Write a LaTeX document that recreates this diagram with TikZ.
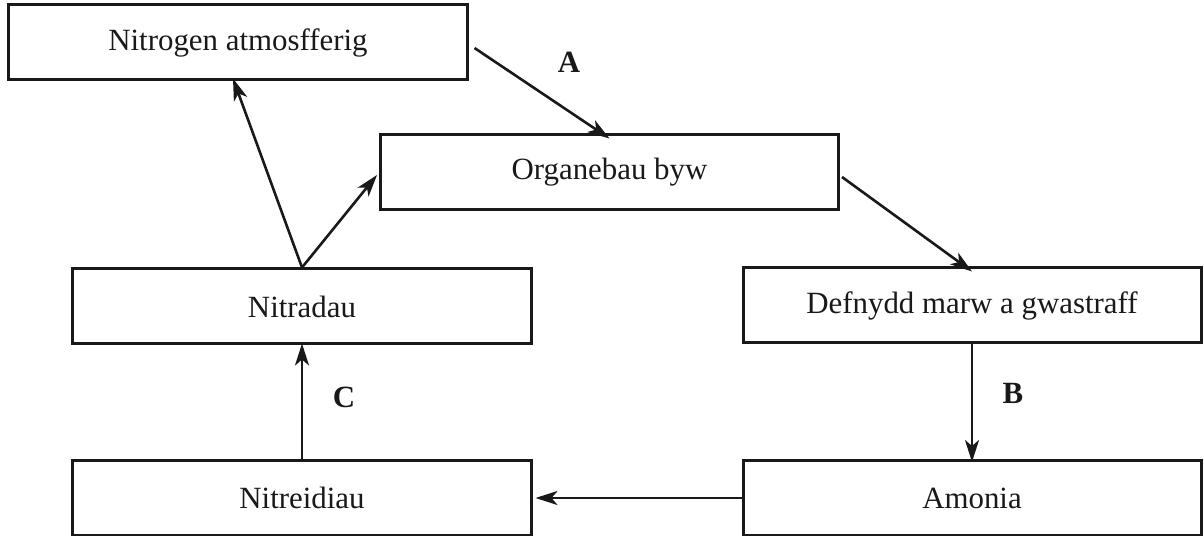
\documentclass[tikz,border=0pt]{standalone}
\usepackage{fontspec}
\setmainfont{Liberation Serif}
\usetikzlibrary{arrows.meta}
\begin{document}
\begin{tikzpicture}[x=1bp,y=-1bp,
  box/.style={draw=black!90, line width=3bp, minimum width=458bp, minimum height=75bp, inner sep=0pt, font=\fontsize{31}{34}\selectfont, text=black!90},
  conn/.style={draw=black!90, line width=2.6bp, -{Stealth[length=22bp,width=14bp,inset=6bp]}},
  lbl/.style={font=\fontsize{31}{34}\selectfont\bfseries, text=black!90}]
\useasboundingbox (0,0) rectangle (1204,536);
\node[box] (n1) at (238,42.5) {Nitrogen atmosfferig};
\node[box] (org) at (609.5,172.5) {Organebau byw};
\node[box] (nitra) at (302,306.5) {Nitradau};
\node[box] (def) at (972,305.5) {Defnydd marw a gwastraff};
\node[box] (nitri) at (302,498) {Nitreidiau};
\node[box] (am) at (972,498) {Amonia};
\draw[conn] ([xshift=6bp,yshift=-5.5bp]n1.east) -- ([yshift=-5bp]org.north);
\draw[conn] ([xshift=2bp,yshift=-4.5bp]org.east) -- ([yshift=-5bp]def.north);
\draw[conn] (def.south) -- ([yshift=-3bp]am.north);
\draw[conn] (am.west) -- ([xshift=3bp]nitri.east);
\draw[conn] (nitri.north) -- ([yshift=2bp]nitra.south);
\draw[conn] (nitra.north) -- ([xshift=-5bp,yshift=3bp]n1.south);
\draw[conn] (nitra.north) -- ([xshift=-2bp,yshift=-2.5bp]org.west);
\node[lbl] (la) at (569,62) {A};
\node[lbl] (lb) at (1013,393) {B};
\node[lbl] (lc) at (344,397) {C};
\end{tikzpicture}
\end{document}
